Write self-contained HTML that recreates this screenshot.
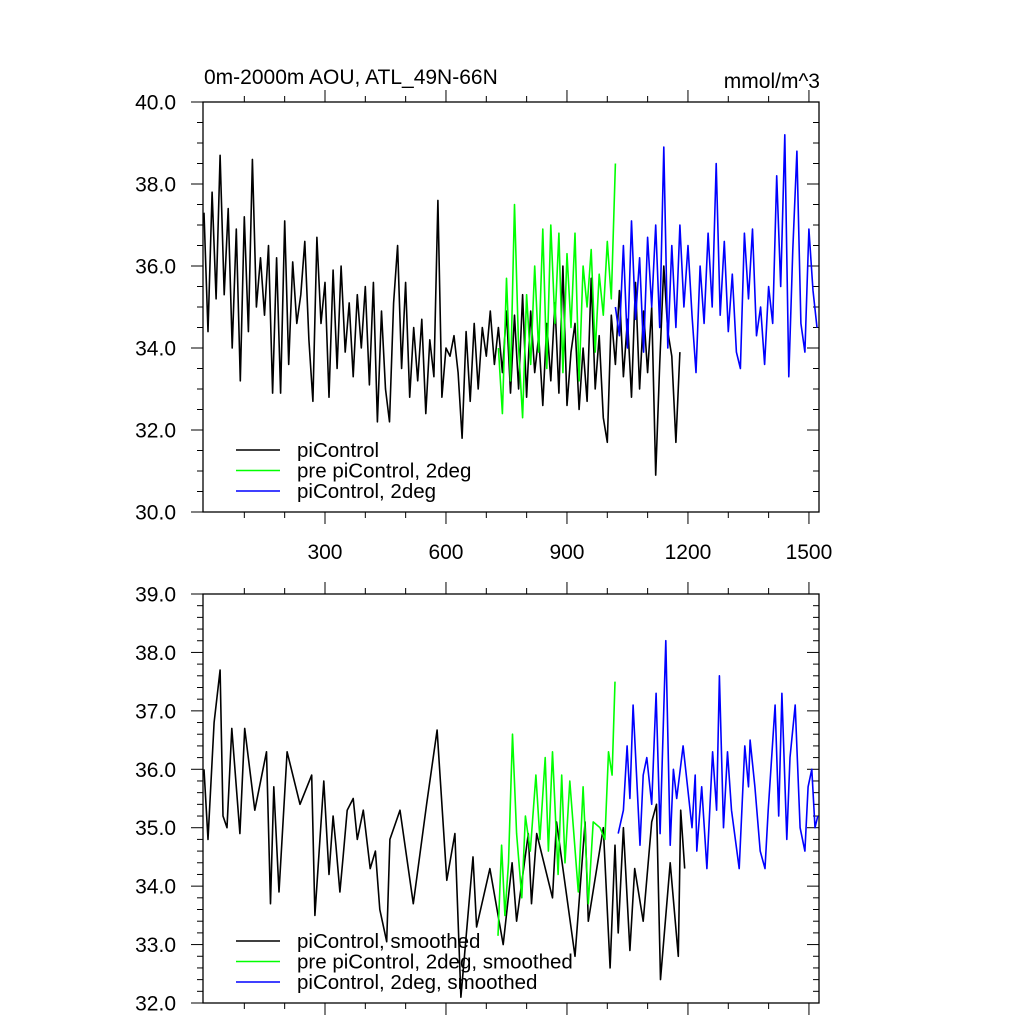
<!DOCTYPE html>
<html><head><meta charset="utf-8"><style>
body{margin:0;background:#fff;}
svg text{font-family:"Liberation Sans",sans-serif;}
</style></head><body>
<svg id="c" width="1024" height="1024" xmlns="http://www.w3.org/2000/svg"></svg>
<script>
// top panel data (every 10 years)
const topBlackStart = 0;
const topBlack = [37.3,34.4,37.8,35.2,38.7,35.3,37.4,34.0,36.9,33.2,37.2,34.4,38.6,35.0,36.2,34.8,36.5,32.9,36.2,32.9,37.1,33.6,36.1,34.6,35.3,36.6,34.2,32.7,36.7,34.6,35.6,32.8,35.9,33.5,36.0,33.9,35.1,33.3,35.3,34.0,35.5,33.1,35.6,32.2,34.9,33.0,32.2,35.1,36.5,33.5,35.6,32.8,34.5,33.2,34.7,32.4,34.2,33.3,37.6,32.8,34.0,33.8,34.3,33.4,31.8,34.4,32.7,34.6,33.0,34.5,33.8,34.9,33.6,34.5,33.4,34.9,32.9,34.8,33.0,35.3,32.8,34.9,33.4,34.3,32.6,34.6,33.2,35.1,32.9,36.0,32.6,33.9,34.6,32.5,34.0,32.7,35.7,33.0,34.3,32.3,31.7,34.8,33.6,35.4,33.3,34.7,32.8,35.6,33.0,34.9,33.4,35.0,30.9,33.6,36.0,34.4,33.8,31.7,33.9];
const topGreenStart = 730;
const topGreen = [34.0,32.4,35.7,33.2,37.5,34.0,32.3,35.3,33.6,36.0,33.9,36.9,33.5,37.0,34.6,36.8,33.4,36.3,34.5,36.8,33.2,36.0,35.0,36.4,33.9,35.8,34.8,36.6,35.2,38.5];
const topBlueStart = 1020;
const topBlue = [35.0,34.3,36.5,34.0,37.1,34.7,36.2,33.9,36.7,35.0,37.0,34.5,38.9,34.0,36.5,34.5,37.0,35.0,36.5,34.8,33.4,36.0,34.6,36.8,35.0,38.5,34.8,36.6,34.4,35.8,33.9,33.5,36.8,35.2,36.9,34.3,35.0,33.6,35.5,34.6,38.2,35.5,39.2,33.3,36.4,38.8,34.6,33.9,36.9,35.4,34.5];
// bottom panel (smoothed) data: years and values
const botBlackX = [0,10,25,40,47,57,69,89,101,126,155,165,173,186,206,238,267,275,297,310,320,327,337,345,355,370,380,395,412,425,436,453,461,486,519,552,578,602,622,637,667,676,709,742,764,775,804,812,825,864,874,920,945,953,990,1007,1019,1027,1040,1056,1068,1089,1110,1122,1132,1156,1176,1182,1192];
const botBlackY = [36.0,34.8,36.8,37.7,35.2,35.0,36.7,34.9,36.7,35.3,36.3,33.7,35.7,33.9,36.3,35.4,35.9,33.5,35.8,34.2,35.2,34.7,33.9,34.5,35.3,35.5,34.8,35.3,34.3,34.6,33.6,33.05,34.8,35.3,33.7,35.4,36.67,34.1,34.9,32.1,34.5,33.3,34.3,33.0,34.4,33.4,34.9,33.7,34.9,33.8,35.1,32.8,35.1,33.4,35.0,32.6,34.7,33.2,35.0,32.9,34.3,33.4,35.1,35.4,32.4,34.4,32.8,35.3,34.3];
const botGreenX = [729,738,746,755,765,775,788,797,809,823,833,846,854,864,878,887,895,907,928,940,953,965,982,994,1003,1012,1019];
const botGreenY = [33.15,34.7,33.5,34.4,36.6,34.9,33.8,35.2,34.6,35.9,34.8,36.2,34.6,36.3,34.2,35.9,34.4,35.8,33.9,35.7,33.7,35.1,35.0,34.8,36.3,35.9,37.5];
const botBlueX = [1027,1040,1049,1056,1064,1081,1089,1098,1110,1121,1131,1145,1156,1164,1172,1188,1210,1218,1222,1234,1247,1261,1271,1278,1288,1298,1308,1327,1341,1350,1354,1366,1379,1391,1399,1416,1425,1433,1445,1453,1466,1478,1490,1498,1507,1515,1522];
const botBlueY = [34.9,35.3,36.4,35.5,37.1,34.7,35.9,36.2,35.4,37.3,34.9,38.2,34.7,36.0,35.5,36.4,35.0,35.9,34.6,35.7,34.3,36.3,35.3,37.6,35.0,36.3,35.3,34.3,36.4,35.7,36.5,35.7,34.6,34.3,35.3,37.1,35.2,37.3,34.8,36.2,37.1,35.0,34.6,35.7,36.0,35.0,35.2];
const xTicks = [300,600,900,1200,1500];
const topYTicks = [30,32,34,36,38,40];
const botYTicks = [32,33,34,35,36,37,38,39];

const NS="http://www.w3.org/2000/svg";
const svg=document.getElementById('c');
function mk(t,a,p){const e=document.createElementNS(NS,t);for(const k in a)e.setAttribute(k,a[k]);(p||svg).appendChild(e);return e;}
const L=203,R=819;
const xs=v=>204+v*0.4033;
function panel(top,bot,ymin,ymax,yTicks,minorStep,name,showXLabels){
  const ys=v=>bot-(v-ymin)/(ymax-ymin)*(bot-top);
  const g=mk('g',{});
  
  
  const f=mk('rect',{x:L,y:top,width:R-L,height:bot-top,fill:'none',stroke:'#000','stroke-width':1.3},g);
  
  
  for(let v=100;v<=1500;v+=100){
    const x=xs(v),maj=v%300===0,len=maj?12:6;
    mk('line',{x1:x,x2:x,y1:top,y2:top-len,stroke:'#000','stroke-width':1},g);
    mk('line',{x1:x,x2:x,y1:bot,y2:bot+len,stroke:'#000','stroke-width':1},g);
  }
  for(let v=ymin;v<=ymax+1e-6;v+=minorStep){
    const y=ys(v),maj=Math.abs(v-Math.round(v/(yTicks[1]-yTicks[0]))*(yTicks[1]-yTicks[0]))<1e-6,len=maj?12:6;
    mk('line',{x1:L,x2:L-len,y1:y,y2:y,stroke:'#000','stroke-width':1},g);
    mk('line',{x1:R,x2:R-len,y1:y,y2:y,stroke:'#000','stroke-width':1},g);
  }
  yTicks.forEach(v=>{
    const t=mk('text',{x:176,y:ys(v)+7.5,'text-anchor':'end','font-size':21},g);
    t.textContent=v.toFixed(1);
    
    
  });
  if(showXLabels) xTicks.forEach(v=>{
    const t=mk('text',{x:xs(v),y:559,'text-anchor':'middle','font-size':21},g);
    t.textContent=v;
    
    
  });
  return ys;
}
function line(xsArr,ysArr,ys,color,name){
  const d=xsArr.map((x,i)=>(i?'L':'M')+xs(x).toFixed(1)+','+ys(ysArr[i]).toFixed(1)).join('');
  const p=mk('path',{d:d,fill:'none',stroke:color,'stroke-width':1.6,'stroke-linejoin':'round'});
  
  
}
function legend(entries,y0){
  entries.forEach((e,i)=>{
    const y=y0+i*20.5;
    const l=mk('line',{x1:236,x2:280,y1:y,y2:y,stroke:e[1],'stroke-width':1.6});
    
    
    const t=mk('text',{x:297,y:y+7,'font-size':20.5});
    t.textContent=e[0];
    
    
  });
}
const ysT=panel(102,512,30,40,topYTicks,0.5,'top-panel',true);
const ysB=panel(594,1003,32,39,botYTicks,0.2,'bottom-panel',false);
const idx=(arr,s)=>arr.map((_,i)=>s+i*10);
line(idx(topBlack,topBlackStart),topBlack,ysT,'#000','series-picontrol');
line(idx(topGreen,topGreenStart),topGreen,ysT,'#00ff00','series-pre-picontrol-2deg');
line(idx(topBlue,topBlueStart),topBlue,ysT,'#0000ff','series-picontrol-2deg');
line(botBlackX,botBlackY,ysB,'#000','series-picontrol-smoothed');
line(botGreenX,botGreenY,ysB,'#00ff00','series-pre-picontrol-2deg-smoothed');
line(botBlueX,botBlueY,ysB,'#0000ff','series-picontrol-2deg-smoothed');
legend([['piControl','#000'],['pre piControl, 2deg','#00ff00'],['piControl, 2deg','#0000ff']],450);
legend([['piControl, smoothed','#000'],['pre piControl, 2deg, smoothed','#00ff00'],['piControl, 2deg, smoothed','#0000ff']],941);
const t1=mk('text',{x:204,y:84,'font-size':21});
t1.textContent='0m-2000m AOU, ATL_49N-66N';


const t2=mk('text',{x:820,y:88,'font-size':21,'text-anchor':'end'});
t2.textContent='mmol/m^3';


</script>
</body></html>
